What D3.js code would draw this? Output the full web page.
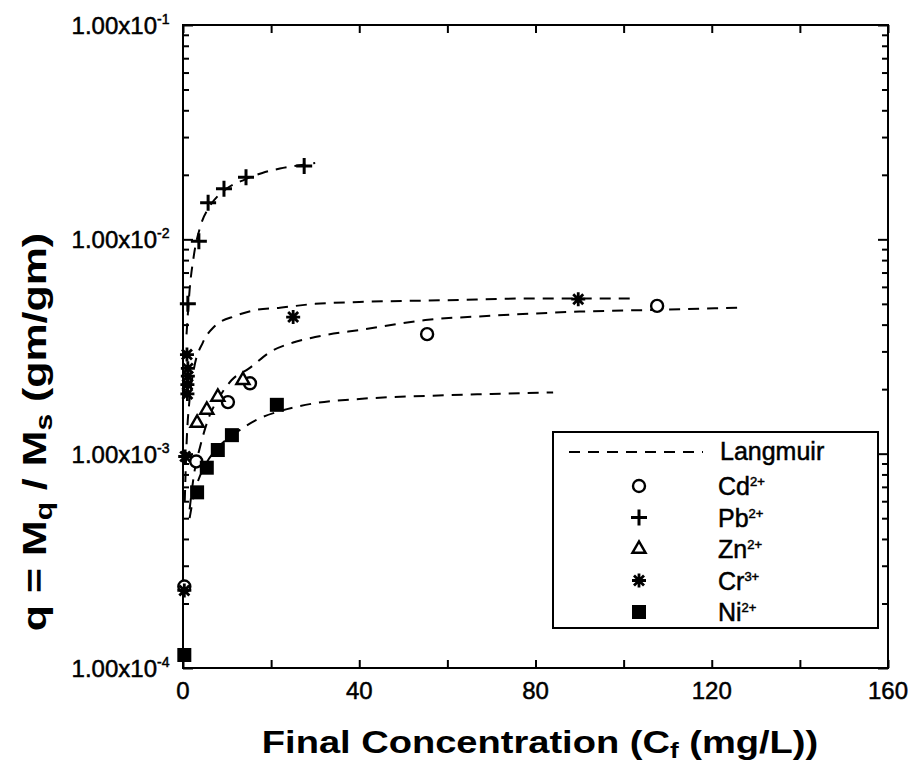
<!DOCTYPE html>
<meta charset="utf-8">
<style>
body { margin: 0; background: #fff; }
svg { font-family: "Liberation Sans", Arial, sans-serif; }
.axis path, .axis line { stroke: #000; stroke-width: 2px; }
.curve { fill: none; stroke: #000; stroke-width: 2px; stroke-dasharray: 11,8; }
.lbl { stroke: #000; stroke-width: 0.5px; }
</style>
<svg width="911" height="763"></svg>
<script src="https://d3js.org/d3.v7.min.js"></script>
<script>

// measured points [Cf (mg/L), q (gm/gm)]
var cdPoints = [[0.3, 0.00024], [3.0, 0.00092], [10.2, 0.00174], [15.2, 0.00213], [55.4, 0.00361], [107.6, 0.00489]];
var pbPoints = [[1.1, 0.0050], [3.6, 0.0098], [5.7, 0.0148], [9.3, 0.0172], [14.3, 0.0195], [27.5, 0.0220]];
var znPoints = [[3.2, 0.00139], [5.4, 0.0016], [7.9, 0.00184], [13.6, 0.0022]];
var crPoints = [[0.3, 0.00023], [0.5, 0.00097], [1.0, 0.0019], [1.0, 0.0021], [1.1, 0.0023], [1.1, 0.0025], [0.9, 0.0029], [25, 0.00434], [89.7, 0.00526]];
var niPoints = [[0.3, 0.000115], [3.2, 0.00066], [5.4, 0.00086], [7.9, 0.00104], [11.1, 0.00122], [21.3, 0.00169]];

// Langmuir fit curves
var pbCurve = [[0.8, 0.0036], [1.5, 0.0058], [2.5, 0.0085], [4, 0.0116], [6, 0.0142], [8, 0.0160], [10, 0.0173], [14, 0.0190], [18, 0.0204], [22, 0.0214], [26, 0.0221], [30, 0.0227]];
var crCurve = [[0.4, 0.0006], [0.8, 0.0011], [1.5, 0.0018], [2.5, 0.0025], [4.5, 0.0033], [7, 0.0039], [12, 0.0044], [17, 0.0047], [22, 0.0048], [30, 0.0050], [40, 0.0051], [60, 0.0052], [80, 0.0053], [103, 0.0053]];
var cdCurve = [[1.5, 0.00055], [2.5, 0.0008], [4, 0.0011], [6, 0.0015], [8, 0.0018], [11, 0.0022], [15, 0.0025], [20, 0.0030], [25, 0.0033], [30, 0.0035], [41, 0.0038], [55, 0.0042], [70, 0.0044], [90, 0.0046], [110, 0.0047], [126, 0.0048]];
var niCurve = [[1.5, 0.0005], [2.2, 0.0006], [3, 0.0007], [5, 0.00088], [8, 0.00107], [12, 0.00125], [17, 0.00145], [22, 0.00158], [30, 0.00172], [40, 0.0018], [55, 0.00186], [70, 0.0019], [84, 0.00193]];

var xTicks = [0, 40, 80, 120, 160];
var xMinor = [20, 60, 100, 140];
var yTicks = [1e-4, 1e-3, 1e-2, 1e-1];
var yTickExp = ["-4", "-3", "-2", "-1"];

var legendNames = ["Cd", "Pb", "Zn", "Cr", "Ni"];
var legendSup = ["2+", "2+", "2+", "3+", "2+"];

var svg = d3.select("svg");
var pl = 183, pr = 888, pt = 25, pb = 668;

var x = d3.scaleLinear().domain([0, 160]).range([pl, pr]);
var y = d3.scaleLog().domain([1e-4, 1e-1]).range([pb, pt]);

var yMinor = [];
[1e-4, 1e-3, 1e-2].forEach(function(d) {
  for (var k = 2; k <= 9; k++) yMinor.push(d * k);
});

// frame
svg.append("rect")
    .attr("x", pl).attr("y", pt)
    .attr("width", pr - pl).attr("height", pb - pt)
    .attr("fill", "none").attr("stroke", "#000").attr("stroke-width", 2);

// ticks, all pointing inward
function ticks(axis, tr) {
  svg.append("g").attr("class", "axis").attr("transform", tr).call(axis)
    .call(function(g) { g.select(".domain").remove(); g.selectAll("text").remove(); });
}
ticks(d3.axisBottom(x).tickValues(xTicks.concat(xMinor)).tickSize(-8), "translate(0," + pb + ")");
ticks(d3.axisTop(x).tickValues(xTicks.concat(xMinor)).tickSize(-8), "translate(0," + pt + ")");
ticks(d3.axisLeft(y).tickValues(yTicks).tickSize(-10), "translate(" + pl + ",0)");
ticks(d3.axisLeft(y).tickValues(yMinor).tickSize(-6), "translate(" + pl + ",0)");
ticks(d3.axisRight(y).tickValues(yTicks).tickSize(-10), "translate(" + pr + ",0)");
ticks(d3.axisRight(y).tickValues(yMinor).tickSize(-6), "translate(" + pr + ",0)");

// tick labels
svg.append("g").selectAll("text").data(xTicks).enter().append("text")
    .attr("class", "lbl")
    .attr("x", function(d) { return x(d); })
    .attr("y", pb + 31)
    .attr("text-anchor", "middle")
    .style("font-size", "24px")
    .text(function(d) { return d; });

svg.append("g").selectAll("text").data(yTicks).enter().append("text")
    .attr("class", "lbl")
    .attr("x", 157)
    .attr("y", function(d) { return y(d) + 9; })
    .attr("text-anchor", "end")
    .style("font-size", "24px")
    .text("1.00x10");
svg.append("g").selectAll("text").data(yTicks).enter().append("text")
    .attr("class", "lbl")
    .attr("x", 157)
    .attr("y", function(d) { return y(d) - 1; })
    .style("font-size", "14px")
    .text(function(d, i) { return yTickExp[i]; });

// axis titles (stretched a bit, the original font is wide)
var xt = svg.append("text")
    .attr("transform", "translate(540,753) scale(1.19,1)")
    .attr("text-anchor", "middle")
    .style("font-size", "32px").style("font-weight", "bold");
xt.append("tspan").text("Final Concentration (C");
xt.append("tspan").attr("dy", 5).style("font-size", "22px").text("f");
xt.append("tspan").attr("dy", -5).text(" (mg/L))");

var ytl = svg.append("text")
    .attr("transform", "translate(46,432) rotate(-90) scale(1.3,1)")
    .attr("text-anchor", "middle")
    .style("font-size", "33px").style("font-weight", "bold");
ytl.append("tspan").text("q = M");
ytl.append("tspan").attr("dy", 6).style("font-size", "23px").text("q");
ytl.append("tspan").attr("dy", -6).text(" / M");
ytl.append("tspan").attr("dy", 6).style("font-size", "23px").text("s");
ytl.append("tspan").attr("dy", -6).text(" (gm/gm)");

// curves
var line = d3.line()
    .x(function(d) { return x(d[0]); })
    .y(function(d) { return y(d[1]); })
    .curve(d3.curveMonotoneX);
[pbCurve, crCurve, cdCurve, niCurve].forEach(function(c) {
  svg.append("path").attr("class", "curve").attr("d", line(c));
});

// marker shapes
var markers = {
  Cd: function(g) { g.append("circle").attr("r", 6).attr("fill", "#fff").attr("stroke", "#000").attr("stroke-width", 2.4); },
  Pb: function(g) { g.append("path").attr("d", "M-8,0H8M0,-8V8").attr("stroke", "#000").attr("stroke-width", 3); },
  Zn: function(g) { g.append("path").attr("d", d3.symbol().type(d3.symbolTriangle).size(75)()).attr("fill", "#fff").attr("stroke", "#000").attr("stroke-width", 2.4); },
  Cr: function(g) { g.append("path").attr("d", "M-7,0H7M0,-7V7M-5,-5L5,5M-5,5L5,-5").attr("stroke", "#000").attr("stroke-width", 2.8); },
  Ni: function(g) { g.append("rect").attr("x", -7).attr("y", -7).attr("width", 14).attr("height", 14).attr("fill", "#000"); }
};

function plot(data, name) {
  svg.append("g").selectAll("g").data(data).enter().append("g")
      .attr("transform", function(d) { return "translate(" + x(d[0]) + "," + y(d[1]) + ")"; })
      .each(function() { markers[name](d3.select(this)); });
}
plot(cdPoints, "Cd");
plot(pbPoints, "Pb");
plot(znPoints, "Zn");
plot(crPoints, "Cr");
plot(niPoints, "Ni");

// legend
var lg = svg.append("g").attr("transform", "translate(553,432)");
lg.append("rect").attr("width", 325).attr("height", 196)
    .attr("fill", "#fff").attr("stroke", "#000").attr("stroke-width", 2);
lg.append("line").attr("class", "curve")
    .attr("x1", 16).attr("x2", 150).attr("y1", 20).attr("y2", 20);
lg.append("text").attr("class", "lbl").attr("x", 167).attr("y", 28)
    .style("font-size", "25px").text("Langmuir");
legendNames.forEach(function(n, i) {
  var yy = 54 + i * 31.5;
  var g = lg.append("g").attr("transform", "translate(86," + yy + ")");
  markers[n](g);
  var t = lg.append("text").attr("class", "lbl").attr("x", 165).attr("y", yy + 9).style("font-size", "25px");
  t.append("tspan").text(n);
  t.append("tspan").attr("dy", -9).style("font-size", "13px").text(legendSup[i]);
});

</script>
